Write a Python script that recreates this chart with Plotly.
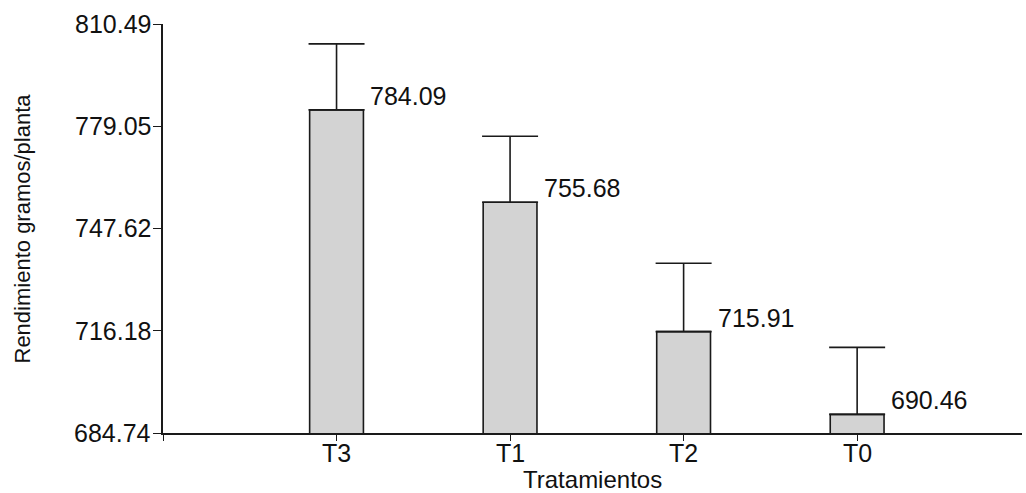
import plotly.graph_objects as go

# Treatment means (g/plant) and their error-bar half-lengths
tratamientos = ["T3", "T1", "T2", "T0"]
rendimiento = [784.09, 755.68, 715.91, 690.46]
error_sup = [20.3, 20.3, 21.0, 20.6]
y_ticks = [684.74, 716.18, 747.62, 779.05, 810.49]

FONT = "Liberation Sans, Arial, sans-serif"
TXT = "#111"
INK = "#1a1a1a"
SIZE = 25
x_pos = list(range(len(tratamientos)))
BAR_W = 0.31

fig = go.Figure()
fig.add_trace(go.Bar(
    x=x_pos,
    y=rendimiento,
    width=BAR_W,
    marker=dict(color="#d3d3d3", line=dict(color=INK, width=1.6)),
    error_y=dict(type="data", array=error_sup, symmetric=False,
                 arrayminus=[0] * len(error_sup),
                 color=INK, thickness=1.6, width=28),
    showlegend=False,
))

# Value labels beside each bar
for xi, v in zip(x_pos, rendimiento):
    fig.add_annotation(
        x=xi + BAR_W / 2, y=v, text=f"{v:.2f}", showarrow=False,
        xanchor="left", yanchor="bottom", xshift=5, yshift=-2,
        font=dict(family=FONT, size=SIZE, color=TXT),
    )

# Category labels under the x axis
for xi, lab in zip(x_pos, tratamientos):
    fig.add_annotation(
        x=xi, y=0, yref="paper", text=lab, showarrow=False,
        xanchor="center", yanchor="middle", yshift=-20,
        font=dict(family=FONT, size=SIZE, color=TXT),
    )

# Value labels on the y axis
for t in y_ticks:
    fig.add_annotation(
        x=0, xref="paper", y=t, text=f"{t:.2f}", showarrow=False,
        xanchor="right", yanchor="middle", xshift=-10,
        font=dict(family=FONT, size=SIZE, color=TXT),
    )

# Axis titles
fig.add_annotation(
    xref="paper", yref="paper", x=(22 - 163) / (1022 - 163), y=0.5,
    text="Rendimiento gramos/planta", textangle=-90, showarrow=False,
    xanchor="center", yanchor="middle",
    font=dict(family=FONT, size=22, color=TXT),
)
fig.add_annotation(
    xref="paper", yref="paper", x=0.5, y=0, yshift=-46,
    text="Tratamientos", showarrow=False, yanchor="middle",
    font=dict(family=FONT, size=24, color=TXT),
)

fig.update_layout(
    width=1026, height=493,
    margin=dict(l=163, r=4, t=24, b=60),
    paper_bgcolor="white", plot_bgcolor="white",
    font=dict(family=FONT, size=SIZE, color=TXT),
    xaxis=dict(
        range=[-1, 3.95],
        tickvals=[-1] + x_pos, showticklabels=False,
        ticks="outside", ticklen=6, tickwidth=1.3, tickcolor=INK,
        showline=True, linecolor=INK, linewidth=1.6,
        showgrid=False, zeroline=False,
    ),
    yaxis=dict(
        range=[y_ticks[0], y_ticks[-1]],
        tickvals=y_ticks, showticklabels=False,
        ticks="outside", ticklen=8, tickwidth=1.3, tickcolor=INK,
        showline=True, linecolor=INK, linewidth=1.6,
        showgrid=False, zeroline=False,
    ),
)

fig.write_html("out.html")
